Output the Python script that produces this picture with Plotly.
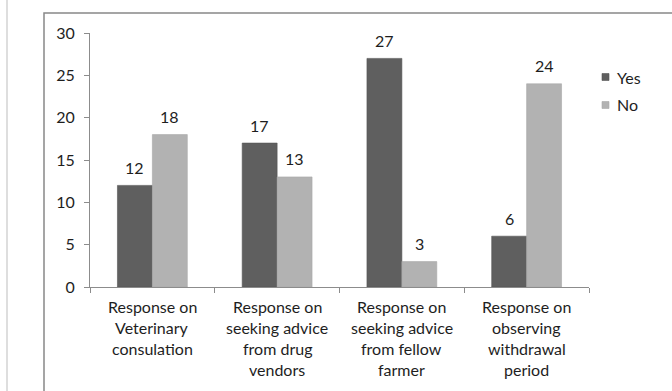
import plotly.graph_objects as go

# Survey responses per question
categories = [
    ["Response on", "Veterinary", "consulation"],
    ["Response on", "seeking advice", "from drug", "vendors"],
    ["Response on", "seeking advice", "from fellow", "farmer"],
    ["Response on", "observing", "withdrawal", "period"],
]
series_names = ["Yes", "No"]
yes_values = [12, 17, 27, 6]
no_values = [18, 13, 3, 24]
y_ticks = [0, 5, 10, 15, 20, 25, 30]

W, H = 672, 391
ML, MR, MT, MB = 90, 83, 33, 104
PW, PH = W - ML - MR, H - MT - MB

FONT = "Lato"
TXT = "#1e1e1e"
AXIS = "#8c8c8c"
BARGAP = 0.44
COLORS = ["#5f5f5f", "#b2b2b2"]
EDGES = ["#555555", "#a8a8a8"]

cat_keys = [" ".join(c) for c in categories]


def px_x(p):
    return (p - ML) / PW


def px_y(p):
    return 1 - (p - MT) / PH


fig = go.Figure()
for name, vals, col, edge in zip(series_names, [yes_values, no_values], COLORS, EDGES):
    fig.add_trace(go.Bar(name=name, x=cat_keys, y=vals, showlegend=False,
                         marker=dict(color=col, line=dict(color=edge, width=0.6))))

# pixel width of one bar, used to centre the value labels over each bar
cat_px = PW / len(categories)
bar_px = cat_px * (1 - BARGAP) / 2

annotations = []
for key, yv, nv in zip(cat_keys, yes_values, no_values):
    for val, sign in ((yv, -1), (nv, 1)):
        annotations.append(dict(x=key, y=val, xref="x", yref="y", text=str(val),
                                showarrow=False, xshift=sign * bar_px / 2, yshift=18,
                                yanchor="middle", font=dict(family=FONT, size=16, color=TXT)))

# multi-line category labels under the axis
for key, lines in zip(cat_keys, categories):
    for i, line in enumerate(lines):
        annotations.append(dict(x=key, y=0, xref="x", yref="y", text=line,
                                showarrow=False, yshift=-19 - 21 * i, yanchor="middle",
                                font=dict(family=FONT, size=16, color=TXT)))

shapes = [
    # outer chart frame (right and bottom edges run off the page)
    dict(type="rect", xref="paper", yref="paper",
         x0=px_x(44), x1=px_x(W + 20), y0=px_y(H + 20), y1=px_y(13),
         line=dict(color="#888888", width=1.5), layer="below"),
    dict(type="line", xref="paper", yref="paper",
         x0=px_x(7), x1=px_x(7), y0=-2, y1=2,
         line=dict(color="#dedede", width=2), layer="below"),
]

# legend keys: small squares with the series names beside them
legend_rows = [77, 105]
for name, col, edge, row in zip(series_names, COLORS, EDGES, legend_rows):
    shapes.append(dict(type="rect", xref="paper", yref="paper",
                       x0=px_x(602), x1=px_x(609), y0=px_y(row + 3.5), y1=px_y(row - 3.5),
                       fillcolor=col, line=dict(color=edge, width=0.6)))
    annotations.append(dict(x=px_x(615), y=px_y(row), xref="paper", yref="paper",
                            text=name, showarrow=False, xanchor="left", yanchor="middle",
                            font=dict(family=FONT, size=16, color=TXT)))

fig.update_layout(
    width=W, height=H,
    margin=dict(l=ML, r=MR, t=MT, b=MB),
    paper_bgcolor="white", plot_bgcolor="white",
    barmode="group", bargap=BARGAP, bargroupgap=0,
    font=dict(family=FONT, size=16, color=TXT),
    showlegend=False,
    annotations=annotations,
    shapes=shapes,
)
fig.update_xaxes(type="category", showticklabels=False, tickson="boundaries",
                 ticks="outside", ticklen=5, tickcolor=AXIS, showline=True,
                 linecolor=AXIS, linewidth=1, showgrid=False, zeroline=False)
fig.update_yaxes(range=[0, 30], tickvals=y_ticks, ticks="outside", ticklen=5,
                 tickcolor=AXIS, showline=True, linecolor=AXIS, linewidth=1,
                 showgrid=False, zeroline=False, ticklabelstandoff=6,
                 tickfont=dict(family=FONT, size=16, color=TXT))

fig.write_html("out.html")
